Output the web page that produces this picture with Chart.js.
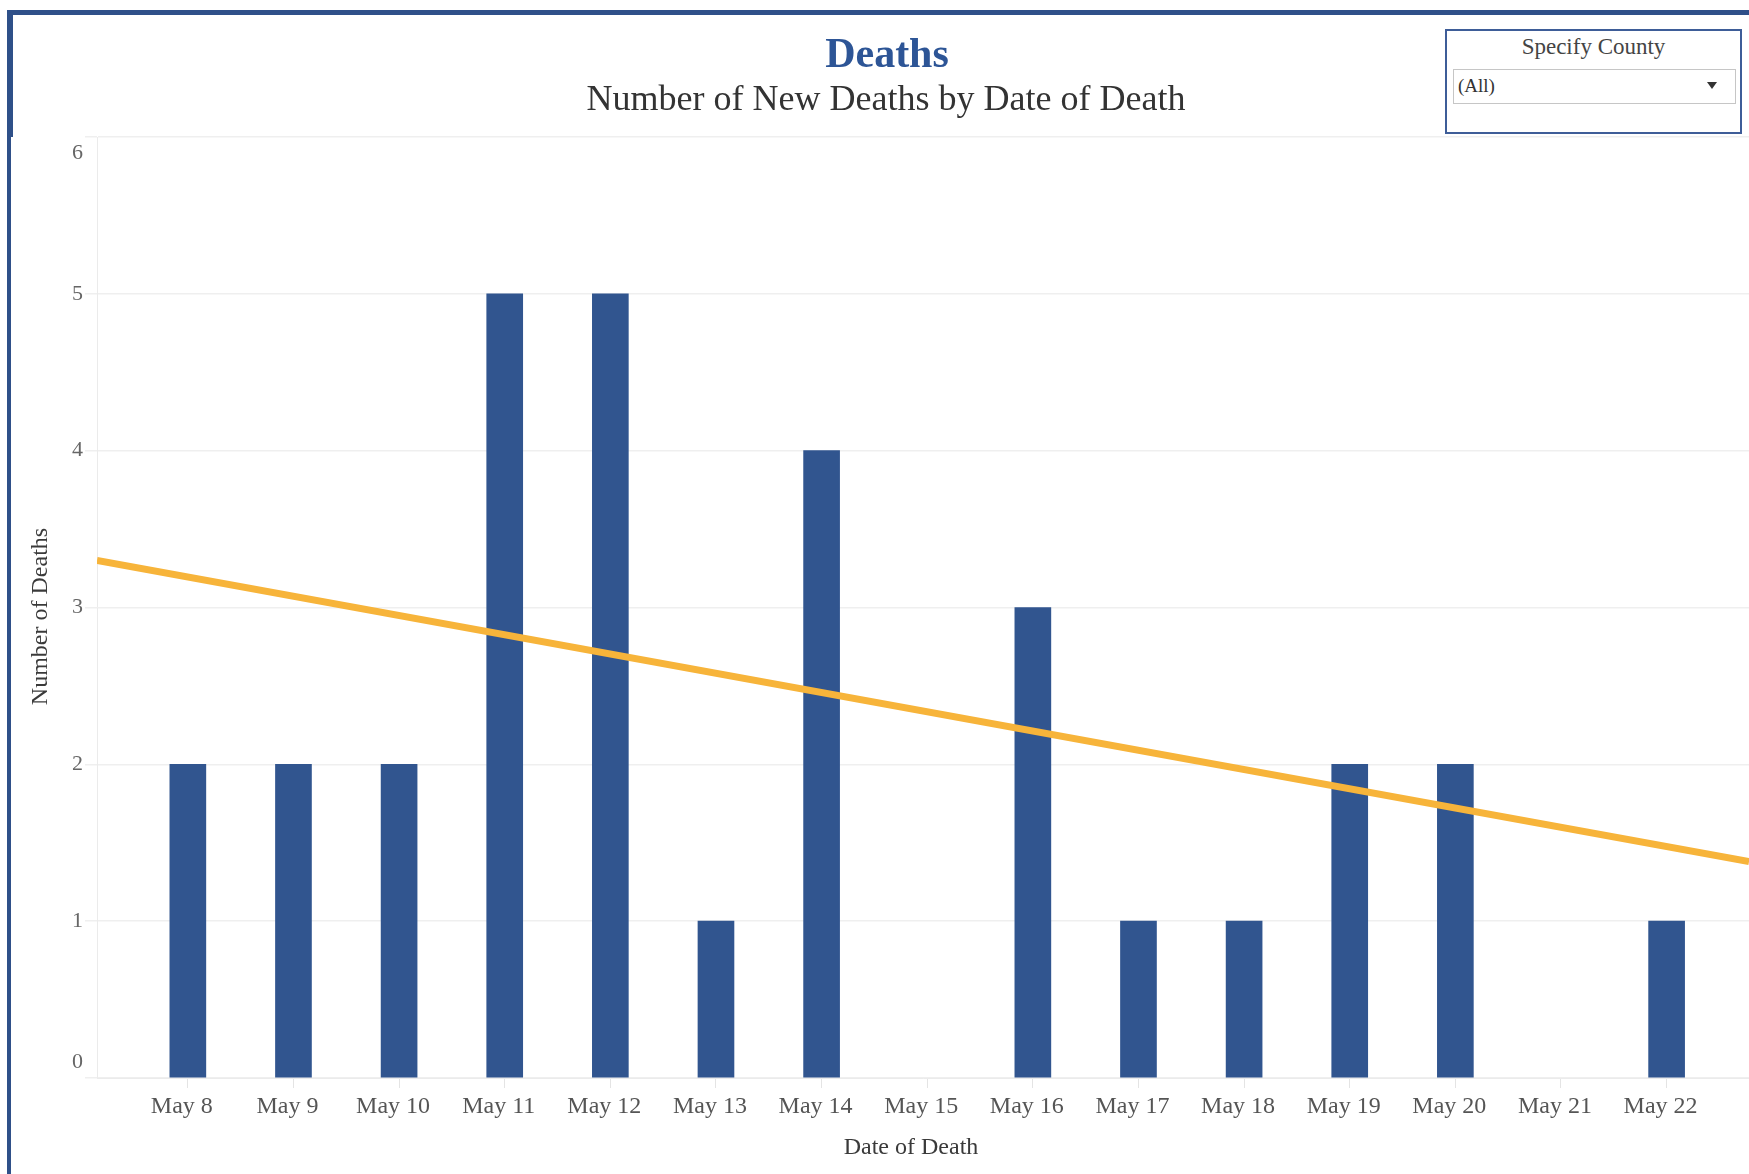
<!DOCTYPE html>
<html>
<head>
<meta charset="utf-8">
<title>Deaths</title>
<script src="https://cdn.jsdelivr.net/npm/chart.js@4.4.1/dist/chart.umd.min.js"></script>
<style>
    html, body { margin: 0; padding: 0; background: #fff; }
    body {
        width: 1749px; height: 1174px; position: relative; overflow: hidden;
        font-family: 'Liberation Serif', 'Times New Roman', serif;
    }
    #chart-wrap { position: absolute; left: 0; top: 0; width: 1749px; height: 1174px; }
    .frame-top { position: absolute; left: 7px; top: 10px; right: 0; height: 5px; background: #2f5089; }
    .frame-left { position: absolute; left: 7px; top: 10px; width: 4px; bottom: 0; background: #2f5089; }
    .frame-left-thick { position: absolute; left: 7px; top: 10px; width: 6px; height: 127px; background: #2f5089; }
    #title {
        position: absolute; left: 887px; top: 32px; transform: translateX(-50%);
        font-size: 42px; line-height: 42px; font-weight: bold; color: #2d5596; white-space: nowrap;
    }
    #subtitle {
        position: absolute; left: 886px; top: 80px; transform: translateX(-50%);
        font-size: 36px; line-height: 36px; color: #333; white-space: nowrap;
    }
    #county-box {
        position: absolute; left: 1445px; top: 29px; width: 297px; height: 105px;
        box-sizing: border-box; border: 2px solid #3e5d98; background: #fff;
    }
    #county-box .label {
        position: absolute; left: 0; right: 0; top: 4px; text-align: center;
        font-size: 23px; line-height: 23px; color: #444;
    }
    #county-box .select {
        position: absolute; left: 6px; top: 38px; width: 283px; height: 35px;
        box-sizing: border-box; border: 1.5px solid #c6c6c6;
    }
    #county-box .select span {
        position: absolute; left: 4px; top: 0; line-height: 32px; font-size: 19px; color: #333;
    }
    #county-box .arrow {
        position: absolute; left: 253px; top: 12px; width: 0; height: 0;
        border-left: 5px solid transparent; border-right: 5px solid transparent; border-top: 7px solid #333;
    }
</style>
</head>
<body>
<div id="chart-wrap"><canvas id="deaths-chart"></canvas></div>
<div class="frame-top"></div>
<div class="frame-left"></div>
<div class="frame-left-thick"></div>
<div id="title">Deaths</div>
<div id="subtitle">Number of New Deaths by Date of Death</div>
<div id="county-box">
    <div class="label">Specify County</div>
    <div class="select"><span>(All)</span><div class="arrow"></div></div>
</div>
<script>
// values
const dateLabels = ['May 8', 'May 9', 'May 10', 'May 11', 'May 12', 'May 13', 'May 14', 'May 15',
    'May 16', 'May 17', 'May 18', 'May 19', 'May 20', 'May 21', 'May 22'];
const deaths = [2, 2, 2, 5, 5, 1, 4, 0, 3, 1, 1, 2, 2, 0, 1];
const yTicks = [0, 1, 2, 3, 4, 5, 6];

// trend line end points (x in day index, the view is cut on both sides)
const trendX = [-0.86, 14.78];
const trendY = [3.30, 1.38];

const xRange = [-0.86, 14.78];

document.addEventListener('DOMContentLoaded', function() {
    const fontFamily = "'Liberation Serif', 'Times New Roman', serif";
    const nb = '\u00a0';

    const barPoints = deaths.map((v, i) => ({ x: i, y: v }));
    const trendPoints = trendX.map((x, i) => ({ x: x, y: trendY[i] }));

    const ctx = document.getElementById('deaths-chart');

    new Chart(ctx, {
        type: 'bar',
        data: {
            datasets: [
                {
                    type: 'line',
                    label: 'Trend',
                    data: trendPoints,
                    borderColor: '#f7b43a',
                    borderWidth: 7,
                    pointRadius: 0,
                    tension: 0,
                    order: 0
                },
                {
                    type: 'bar',
                    label: 'Number of Deaths',
                    data: barPoints,
                    backgroundColor: function(c) {
                        return c.raw && c.raw.y > 0 ? '#31558f' : 'rgba(0,0,0,0)';
                    },
                    borderWidth: 0,
                    barThickness: 36,
                    order: 1
                }
            ]
        },
        options: {
            responsive: true,
            maintainAspectRatio: false,
            animation: false,
            layout: { padding: { top: 137, left: 0, right: 0, bottom: 0 } },
            plugins: {
                legend: { display: false },
                tooltip: { enabled: false }
            },
            scales: {
                x: {
                    type: 'linear',
                    min: xRange[0],
                    max: xRange[1],
                    offset: false,
                    afterFit: function(scale) { scale.height = 96; },
                    ticks: {
                        stepSize: 1,
                        includeBounds: false,
                        autoSkip: false,
                        maxRotation: 0,
                        padding: 4,
                        labelOffset: -6,
                        color: '#555',
                        font: { family: fontFamily, size: 24 },
                        callback: function(value) {
                            return dateLabels[value] !== undefined ? dateLabels[value] : '';
                        }
                    },
                    grid: { offset: false, drawOnChartArea: false, drawTicks: true, tickLength: 10, color: '#e4e4e4' },
                    border: { display: true, color: '#ebebeb' },
                    title: {
                        display: true,
                        text: 'Date of Death' + nb.repeat(4),
                        color: '#3a3a3a',
                        font: { family: fontFamily, size: 24 },
                        padding: { top: 0, bottom: 12 }
                    }
                },
                y: {
                    min: yTicks[0],
                    max: yTicks[yTicks.length - 1],
                    afterFit: function(scale) { scale.width = 97; },
                    ticks: {
                        stepSize: 1,
                        padding: 2,
                        color: '#666',
                        font: { family: fontFamily, size: 22, lineHeight: 1.45 },
                        // keep the end labels inside the plot like the original
                        callback: function(value) {
                            if (value === yTicks[yTicks.length - 1]) return ['', String(value)];
                            if (value === yTicks[0]) return [String(value), ''];
                            return String(value);
                        }
                    },
                    grid: { color: '#efefef', lineWidth: 1.5, tickLength: 12 },
                    border: { color: '#ebebeb' },
                    title: {
                        display: true,
                        text: 'Number of Deaths' + nb.repeat(3),
                        color: '#3a3a3a',
                        font: { family: fontFamily, size: 24 },
                        padding: { top: 26, bottom: 0 }
                    }
                }
            }
        }
    });
});
</script>
</body>
</html>
